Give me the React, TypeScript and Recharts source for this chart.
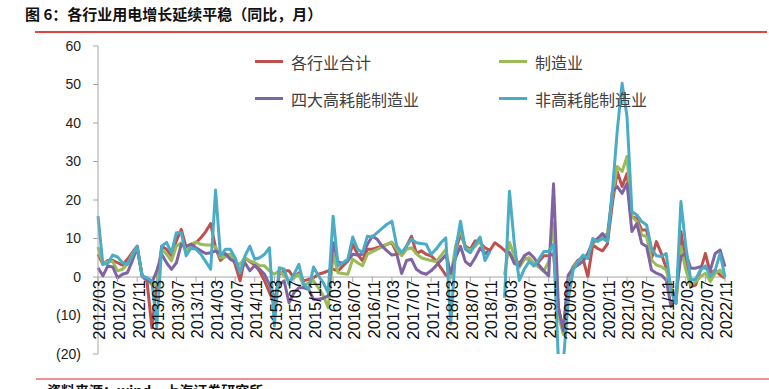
import React from 'react';
import { LineChart, Line, XAxis, YAxis, ReferenceLine, Legend } from 'recharts';

// ---- categories (monthly, 2012/03 .. 2022/11) ----
const START_YEAR = 2012;
const START_MONTH = 3;
const MONTH_COUNT = 129;
const months: string[] = Array.from({ length: MONTH_COUNT }, (_, i) => {
  const m0 = START_MONTH - 1 + i;
  const y = START_YEAR + Math.floor(m0 / 12);
  const m = (m0 % 12) + 1;
  return `${y}/${m < 10 ? '0' + m : m}`;
});

// ---- series (同比, %) ----
const total: (number | null)[] = [
  5.9, 3.3, 4.3, 4.3, 3.7, 3.1, 4.6, 6.3, 8.0, 0.3,
  -1.0, -13.2, -2.0, 8.0, 7.2, 5.5, 9.4, 12.4, 7.6, 8.5,
  8.9, 10.2, 11.8, 13.9, 7.6, 4.3, 5.5, 5.9, 3.3, -1.0,
  5.0, 4.0, 3.1, 1.5, -1.0, -4.0, -7.1, 0.7, 1.6, 1.6,
  -0.2, 1.1, -1.0, -0.6, -0.2, 0.7, 1.1, 1.6, 2.0, 1.6,
  2.9, 4.2, 8.5, 5.9, 4.2, 7.2, 7.2, 7.6, 8.0, 8.5,
  8.9, 6.3, 5.9, 8.0, 10.6, 6.1, 6.8, 5.9, 5.5, 4.2,
  2.4, 0.5, 0.0, 6.8, 11.1, 8.0, 7.2, 9.4, 8.9, 7.6,
  6.9, 8.9, 8.0, 6.9, 6.3, 4.2, 3.7, 5.0, 4.6, 2.9,
  4.0, 5.5, 5.5, 6.0, -8.0, -14.0, -1.0, 2.7, 4.4, 4.8,
  0.1, 8.3, 7.4, 6.8, 8.6, 19.0, 27.4, 23.5, 26.9, 15.7,
  15.2, 12.2, 12.2, 4.8, 9.2, 6.1, 2.3, -2.5, -6.8, 11.8,
  3.5, -2.5, -2.1, 1.8, 6.1, 1.0, 1.8, 0.5, -0.3,
];

const manufacturing: (number | null)[] = [
  7.8, 3.3, 4.0, 4.0, 1.6, 2.0, 3.3, 5.9, 7.6, 0.3,
  -0.6, -2.0, -2.0, 7.2, 5.9, 4.2, 8.0, 8.9, 6.8, 8.5,
  9.1, 8.5, 8.3, 8.3, 7.8, 5.0, 5.2, 5.9, 3.7, 3.3,
  5.0, 4.2, 3.7, 3.0, 2.9, 1.6, 0.7, 1.6, 0.3, -1.0,
  -0.2, 0.7, -2.3, -1.5, -1.0, -2.8, -4.9, -8.0, 5.9, 1.1,
  0.9, 0.7, 4.6, 3.7, 2.9, 5.9, 6.6, 7.2, 7.8, 8.5,
  9.1, 7.2, 5.5, 7.2, 7.6, 6.0, 5.0, 4.6, 4.3, 4.0,
  5.5, 7.2, 0.0, 8.0, 12.5, 7.5, 7.0, 8.0, 9.5, 6.0,
  6.5, null, null, 0.5, 9.0, 5.5, 2.5, 4.5, 5.0, 3.5,
  2.5, 1.5, 4.0, 14.0, -10.0, -15.0, -2.0, 2.5, 4.0, 4.4,
  6.1, 8.7, 9.6, 10.5, 11.3, 20.9, 28.7, 27.4, 31.3, 15.7,
  14.4, 10.9, 10.5, 4.4, 3.1, 2.7, 1.8, -2.9, -6.8, 7.9,
  1.8, -2.1, -1.2, 0.1, 1.0, -1.2, 1.0, 1.8, 0.0,
];

const highEnergy: (number | null)[] = [
  2.4, 0.3, 2.9, 2.6, -0.2, 0.7, 1.1, 4.2, 7.6, 0.3,
  -0.9, -1.5, 1.6, 5.9, 3.7, 2.0, 3.7, 8.5, 8.0, 8.5,
  7.6, 6.8, 6.1, 6.3, 6.8, 5.9, 6.1, 4.6, 4.0, 1.6,
  3.7, 1.6, 3.0, 2.0, 0.7, -1.9, -5.8, -1.9, -1.0, -6.7,
  -4.1, -2.8, -2.8, -3.2, -5.8, -5.8, -5.5, -4.9, 8.9, 4.0,
  3.5, 4.2, 5.9, 5.7, 5.9, 8.5, 10.6, 9.8, 8.0, 6.8,
  5.7, 5.9, 0.9, 4.3, 4.6, 2.0, 1.1, 0.7, 1.6, 2.9,
  4.3, 5.7, 1.0, 5.0, 8.0, 4.0, 3.0, 5.0, 7.5, 6.0,
  7.0, null, null, 6.6, 6.3, 3.5, 3.0, 5.5, 6.3, 5.0,
  3.1, 1.6, 0.3, 24.2, -8.0, -14.0, 0.5, 2.3, 3.1, 4.0,
  6.1, 9.2, 10.0, 11.3, 9.6, 22.2, 23.5, 21.7, 24.3, 11.8,
  13.9, 8.7, 7.9, 1.8, 1.0, 0.5, -0.8, -7.7, -4.2, 5.3,
  6.1, 2.3, 2.3, 2.7, 2.3, 1.8, 6.1, 7.0, 2.7,
];

const nonHighEnergy: (number | null)[] = [
  15.8, 3.3, 3.5, 5.7, 5.2, 3.7, 3.3, 5.5, 8.0, 0.3,
  -0.2, -1.0, -13.0, 8.0, 9.0, 6.3, 11.5, 11.5, 5.5, 7.6,
  7.2, 5.9, 4.0, 2.0, 22.6, 5.5, 7.2, 7.2, 5.0, 1.1,
  5.5, 8.0, 4.6, 5.0, 5.9, 7.6, -12.7, 2.4, 2.0, -1.9,
  0.7, 3.3, -1.9, -3.2, 2.6, 0.3, -1.5, -4.1, 15.8, 2.9,
  3.7, 4.6, 10.4, 7.2, 6.3, 10.6, 10.4, 11.5, 12.6, 13.7,
  14.5, 8.0, 6.3, 8.0, 9.8, 8.9, 8.7, 8.5, 5.9, 7.2,
  8.9, 10.2, -12.3, 6.8, 14.5, 7.2, 6.3, 8.5, 10.4, 4.3,
  6.6, null, null, -5.4, 22.3, 8.5, -0.9, 2.0, 4.0, 2.9,
  4.6, 6.6, 6.6, 8.5, -22.0, -22.0, -6.0, 1.8, 4.0, 5.7,
  4.8, 10.0, 9.2, 10.0, 9.2, 22.0, 38.0, 50.3, 41.6, 17.0,
  16.1, 14.4, 13.5, 7.4, 5.5, 5.3, 6.1, -3.8, -6.8, 19.6,
  7.9, -0.8, -0.6, 1.8, 2.9, 0.1, 1.8, 6.1, 0.0,
];

const yTicks = [-20, -10, 0, 10, 20, 30, 40, 50, 60];
const Y_MIN = -20;
const Y_MAX = 60;

const SERIES = [
  { key: 'total', name: '各行业合计', color: '#C0504D' },
  { key: 'manufacturing', name: '制造业', color: '#9BBB59' },
  { key: 'highEnergy', name: '四大高耗能制造业', color: '#8064A2' },
  { key: 'nonHighEnergy', name: '非高耗能制造业', color: '#4BACC6' },
];
const SERIES_ORDER = SERIES.map((s) => s.key);

const data = months.map((m, i) => ({
  month: m,
  total: total[i],
  manufacturing: manufacturing[i],
  highEnergy: highEnergy[i],
  nonHighEnergy: nonHighEnergy[i],
}));

// ---- layout ----
const W = 769;
const H = 389;
const MARGIN = { top: 46, right: 44, bottom: 5, left: 38 };
const Y_AXIS_W = 60;
const X_AXIS_H = 30;
const PLOT_H = H - MARGIN.top - MARGIN.bottom - X_AXIS_H;
const ZERO_Y = MARGIN.top + (PLOT_H * (Y_MAX - 0)) / (Y_MAX - Y_MIN);
const AXIS_COLOR = '#A6A6A6';
const FONT = '"Liberation Sans", Arial, sans-serif';
const CJK = '"Noto Sans CJK SC", "Noto Sans", sans-serif';

const fmtY = (v: number) => (v < 0 ? `(${-v})` : `${v}`);

const XTick = (props: any) => {
  const { x, payload } = props;
  const ty = ZERO_Y + 3;
  return (
    <g>
      <line x1={x} x2={x} y1={ZERO_Y} y2={ZERO_Y + 5} stroke={AXIS_COLOR} strokeWidth={1} />
      <text
        x={x}
        y={ty}
        transform={`rotate(-90 ${x} ${ty})`}
        textAnchor="end"
        dy="0.45em"
        fontSize={16.5}
        fontFamily={FONT}
        fill="#111"
      >
        {payload.value}
      </text>
    </g>
  );
};

const LegendContent = (props: any) => {
  const payload = (props.payload || [])
    .slice()
    .sort((a: any, b: any) => SERIES_ORDER.indexOf(a.dataKey) - SERIES_ORDER.indexOf(b.dataKey));
  return (
    <div
      style={{
        display: 'grid',
        gridTemplateColumns: '244px 200px',
        rowGap: 14,
        fontFamily: CJK,
        fontSize: 16,
        color: '#404040',
      }}
    >
      {payload.map((p: any) => (
        <div key={p.value} style={{ display: 'flex', alignItems: 'center', height: 23 }}>
          <span style={{ display: 'inline-block', width: 28, height: 3, background: p.color, marginRight: 8 }} />
          <span style={{ whiteSpace: 'nowrap' }}>{p.value}</span>
        </div>
      ))}
    </div>
  );
};

export default function App() {
  return (
    <div style={{ position: 'absolute', left: 0, top: 0, width: W, height: H, background: '#fff', overflow: 'hidden' }}>
      <div
        style={{
          position: 'absolute',
          left: 25,
          top: 4,
          fontFamily: CJK,
          fontWeight: 700,
          fontSize: 15,
          lineHeight: '20px',
          color: '#111',
          whiteSpace: 'nowrap',
        }}
      >
        图 6：各行业用电增长延续平稳（同比，月）
      </div>
      <div style={{ position: 'absolute', left: 35, top: 31, width: 732, height: 2, background: '#E3433F' }} />
      <div style={{ position: 'absolute', left: 36, top: 378, width: 733, height: 2, background: '#F29090' }} />
      <div
        style={{
          position: 'absolute',
          left: 47,
          top: 381,
          fontFamily: CJK,
          fontWeight: 700,
          fontSize: 14,
          lineHeight: '18px',
          color: '#111',
          whiteSpace: 'nowrap',
        }}
      >
        资料来源：wind，上海证券研究所
      </div>
      <div style={{ position: 'absolute', left: 0, top: 0 }}>
        <LineChart width={W} height={H} data={data} margin={MARGIN}>
          <XAxis
            dataKey="month"
            interval={3}
            axisLine={false}
            tickLine={false}
            height={X_AXIS_H}
            tick={<XTick />}
          />
          <YAxis
            width={Y_AXIS_W}
            domain={[Y_MIN, Y_MAX]}
            ticks={yTicks}
            allowDataOverflow
            tickFormatter={fmtY}
            axisLine={{ stroke: AXIS_COLOR }}
            tickLine={{ stroke: AXIS_COLOR }}
            tickSize={5}
            tickMargin={12}
            tick={{ fontSize: 14, fontFamily: FONT, fill: '#222' }}
          />
          <ReferenceLine y={0} stroke={AXIS_COLOR} strokeWidth={1} />
          <Legend
            verticalAlign="middle"
            align="center"
            layout="horizontal"
            wrapperStyle={{ left: 255, top: 50, width: 460 }}
            content={<LegendContent />}
          />
          {SERIES.map((s) => (
            <Line
              key={s.key}
              type="linear"
              dataKey={s.key}
              name={s.name}
              stroke={s.color}
              strokeWidth={3}
              strokeLinejoin="round"
              dot={false}
              activeDot={false}
              isAnimationActive={false}
            />
          ))}
        </LineChart>
      </div>
    </div>
  );
}
